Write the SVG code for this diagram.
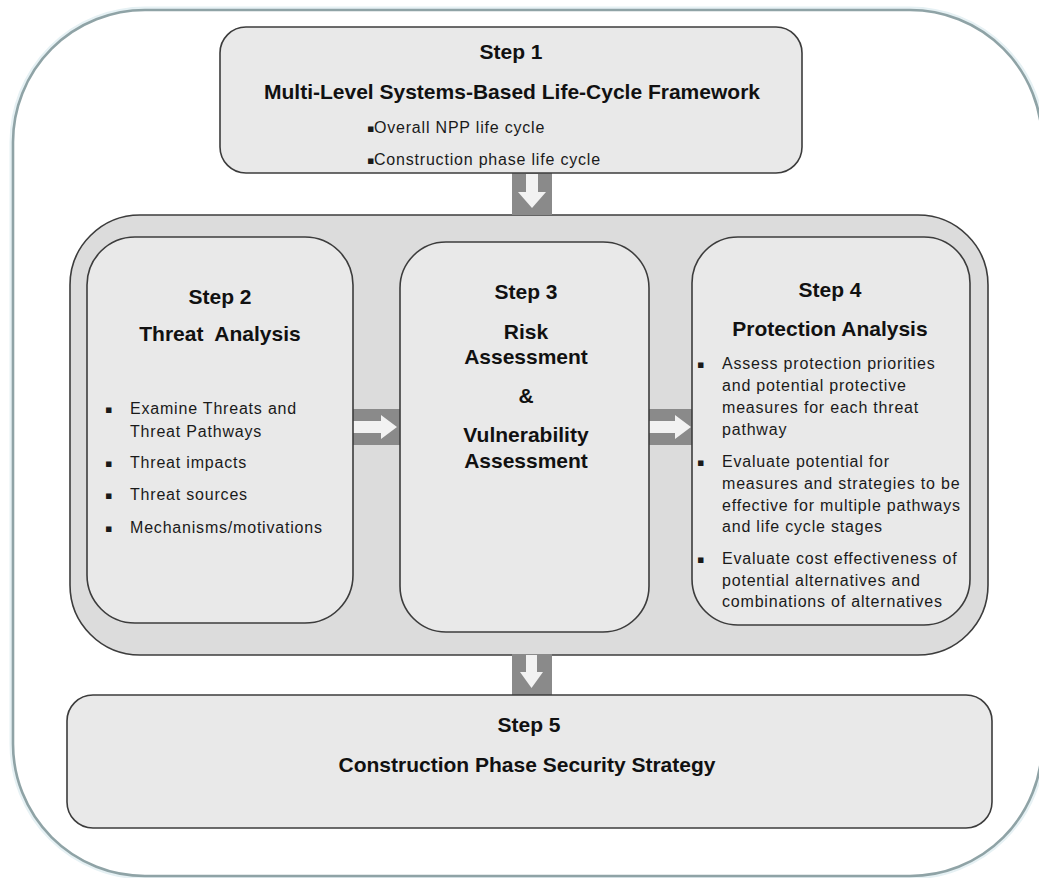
<svg xmlns="http://www.w3.org/2000/svg" width="1039" height="878" viewBox="0 0 1039 878">
  <style>
    .box { fill: #e9e9e9; stroke: #3c3c3c; stroke-width: 1.6; }
    .band { fill: #dcdcdc; stroke: #3c3c3c; stroke-width: 1.6; }
    .head { font-family: "Liberation Sans", Arial, sans-serif; font-weight: bold; font-size: 21px; fill: #111; text-anchor: middle; }
    .item { font-family: "Liberation Sans", Arial, sans-serif; font-size: 16px; fill: #1a1a1a; letter-spacing: 0.8px; }
    .dot { font-family: "DejaVu Sans", "Liberation Sans", sans-serif; font-size: 11px; fill: #1a1a1a; }
    .pipe { fill: #8a8a8a; }
    .tip { fill: #f2f2f2; }
  </style>

  <!-- outer frame -->
  <g id="frame">
    <rect x="13" y="10" width="1029" height="866" rx="132" ry="132" fill="none" stroke="#e6f1f4" stroke-width="7"/>
    <rect x="13" y="10" width="1029" height="866" rx="132" ry="132" fill="#ffffff" stroke="#8fa3a6" stroke-width="2.6"/>
  </g>

  <!-- container holding steps 2 to 4 -->
  <g id="analysis-stage">
    <rect class="band" x="70" y="215" width="918" height="440" rx="70" ry="70"/>
  </g>

  <!-- connectors -->
  <g id="connectors">
    <!-- step 1 down to analysis stage -->
    <rect class="pipe" x="512" y="173" width="40" height="42"/>
    <polygon class="tip" points="526,174 538,174 538,192 546,192 532,208 518,192 526,192"/>
    <!-- step 2 to step 3 -->
    <rect class="pipe" x="353" y="409" width="47" height="36"/>
    <polygon class="tip" points="353,421 381,421 381,415 397,427 381,439 381,433 353,433"/>
    <!-- step 3 to step 4 -->
    <rect class="pipe" x="649" y="409" width="43" height="36"/>
    <polygon class="tip" points="649,421 675,421 675,415 691,427 675,439 675,433 649,433"/>
    <!-- analysis stage down to step 5 -->
    <rect class="pipe" x="512" y="654" width="40" height="41"/>
    <polygon class="tip" points="526,655 537,655 537,672 543,672 531.5,688 520,672 526,672"/>
  </g>

  <g id="step1">
    <rect class="box" x="220" y="27" width="582" height="146" rx="26" ry="26"/>
    <text class="head" x="511" y="59">Step 1</text>
    <text class="head" x="512" y="99">Multi-Level Systems-Based Life-Cycle Framework</text>
    <text class="dot" x="367" y="132">▪</text>
    <text class="item" x="374" y="133">Overall NPP life cycle</text>
    <text class="dot" x="367" y="164">▪</text>
    <text class="item" x="374" y="165">Construction phase life cycle</text>
  </g>

  <g id="step2">
    <rect class="box" x="87" y="237" width="266" height="386" rx="48" ry="48"/>
    <text class="head" x="220" y="304">Step 2</text>
    <text class="head" x="220" y="341" xml:space="preserve">Threat  Analysis</text>
    <text class="dot" x="105" y="413">▪</text>
    <text class="item" x="130" y="414">Examine Threats and</text>
    <text class="item" x="130" y="437">Threat Pathways</text>
    <text class="dot" x="105" y="467">▪</text>
    <text class="item" x="130" y="468">Threat impacts</text>
    <text class="dot" x="105" y="499">▪</text>
    <text class="item" x="130" y="500">Threat sources</text>
    <text class="dot" x="105" y="532">▪</text>
    <text class="item" x="130" y="533">Mechanisms/motivations</text>
  </g>

  <g id="step3">
    <rect class="box" x="400" y="242" width="249" height="390" rx="46" ry="46"/>
    <text class="head" x="526" y="299">Step 3</text>
    <text class="head" x="526" y="339">Risk</text>
    <text class="head" x="526" y="364">Assessment</text>
    <text class="head" x="526" y="403">&amp;</text>
    <text class="head" x="526" y="442">Vulnerability</text>
    <text class="head" x="526" y="468">Assessment</text>
  </g>

  <g id="step4">
    <rect class="box" x="692" y="237" width="278" height="388" rx="46" ry="46"/>
    <text class="head" x="830" y="297">Step 4</text>
    <text class="head" x="830" y="336">Protection Analysis</text>
    <text class="dot" x="697" y="368">▪</text>
    <text class="item" x="722" y="369">Assess protection priorities</text>
    <text class="item" x="722" y="391">and potential protective</text>
    <text class="item" x="722" y="413">measures for each threat</text>
    <text class="item" x="722" y="435">pathway</text>
    <text class="dot" x="697" y="466">▪</text>
    <text class="item" x="722" y="467">Evaluate potential for</text>
    <text class="item" x="722" y="489">measures and strategies to be</text>
    <text class="item" x="722" y="511">effective for multiple pathways</text>
    <text class="item" x="722" y="532">and life cycle stages</text>
    <text class="dot" x="697" y="563">▪</text>
    <text class="item" x="722" y="564">Evaluate cost effectiveness of</text>
    <text class="item" x="722" y="586">potential alternatives and</text>
    <text class="item" x="722" y="607">combinations of alternatives</text>
  </g>

  <g id="step5">
    <rect class="box" x="67" y="695" width="925" height="133" rx="26" ry="26"/>
    <text class="head" x="529" y="732">Step 5</text>
    <text class="head" x="527" y="772">Construction Phase Security Strategy</text>
  </g>
</svg>
